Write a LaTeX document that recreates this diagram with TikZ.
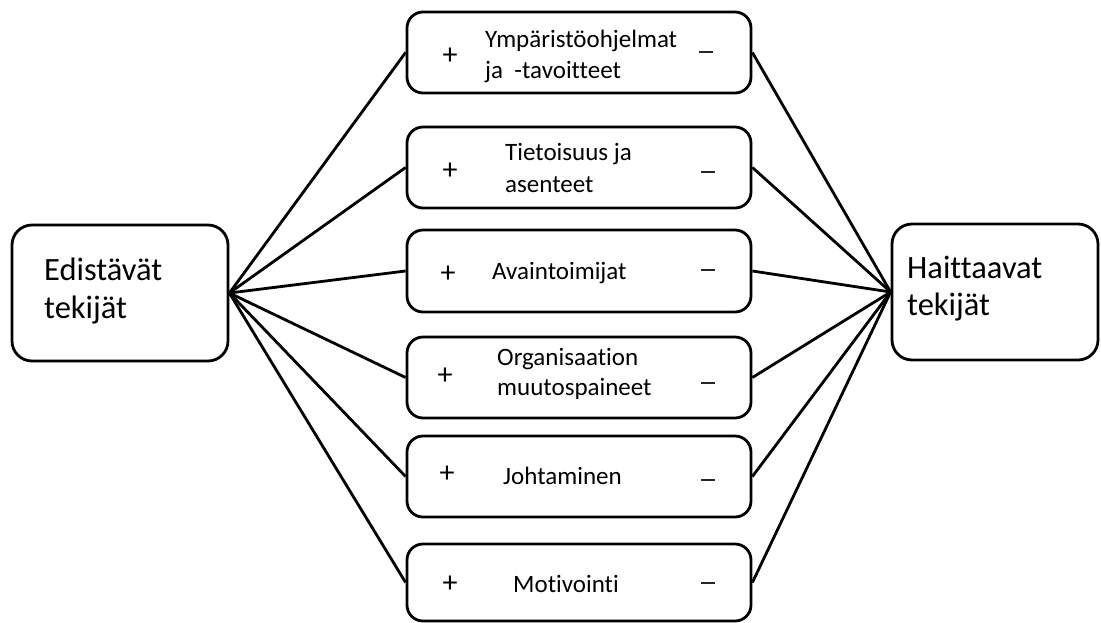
\documentclass[tikz,border=0pt]{standalone}
\usepackage{fontspec}
\setmainfont{Carlito}[Ligatures=NoCommon]
\newcommand\fbig{\fontsize{32.5}{38}\selectfont}
\newcommand\fmid{\fontsize{25}{30}\selectfont}
\newcommand\fsgn{\fontsize{30}{34}\selectfont}
\begin{document}
\begin{tikzpicture}[x=1pt,y=-1pt,
  box/.style={draw=black, line width=2.8pt, rounded corners=#1, inner sep=0pt},
  box/.default=16pt,
  lnk/.style={draw=black, line width=2.8pt},
  lbl/.style={anchor=base west, inner sep=0pt, font=\fmid},
  big/.style={anchor=base west, inner sep=0pt, font=\fbig},
  sgn/.style={anchor=base, inner sep=0pt, font=\fsgn, yshift=-9.5pt},
  neg/.style={fill=black!85, inner sep=0pt, minimum width=14pt, minimum height=2.6pt}]
\useasboundingbox (0,0) rectangle (1101,622);
% side boxes
\node[box=20pt, minimum width=216pt, minimum height=136pt] (L) at (120,293) {};
\node[box=20pt, minimum width=206pt, minimum height=136pt] (R) at (995,292) {};
\node[big] (Lt1) at (44,280) {Edistävät};
\node[big] (Lt2) at (44,318) {tekijät};
\node[big] (Rt1) at (907,278) {Haittaavat};
\node[big] (Rt2) at (907,315) {tekijät};
% middle boxes
\node[box, minimum width=344pt, minimum height=81pt] (b1) at (579,52.5) {};
\node[box, minimum width=344pt, minimum height=81pt] (b2) at (579,167.5) {};
\node[box, minimum width=344pt, minimum height=82pt] (b3) at (579,271) {};
\node[box, minimum width=344pt, minimum height=81pt] (b4) at (579,377.5) {};
\node[box, minimum width=344pt, minimum height=81pt] (b5) at (579,476.5) {};
\node[box, minimum width=344pt, minimum height=77pt] (b6) at (579,582.5) {};
% texts
\node[lbl] (t1a) at (485,47) {Ympäristöohjelmat};
\node[lbl] (t1b) at (485,78) {ja\ \ -tavoitteet};
\node[sgn] (p1) at (450,55) {+};
\node[neg] (m1) at (706,52) {};
\node[lbl] (t2a) at (505,160) {Tietoisuus ja};
\node[lbl] (t2b) at (505,192) {asenteet};
\node[sgn] (p2) at (450,170) {+};
\node[neg] (m2) at (708,172) {};
\node[lbl] (t3a) at (492,279) {Avaintoimijat};
\node[sgn] (p3) at (448,273) {+};
\node[neg] (m3) at (708,270) {};
\node[lbl] (t4a) at (497,365) {Organisaation};
\node[lbl] (t4b) at (497,395) {muutospaineet};
\node[sgn] (p4) at (445,375) {+};
\node[neg] (m4) at (708,383) {};
\node[lbl] (t5a) at (503,484) {Johtaminen};
\node[sgn] (p5) at (447,473) {+};
\node[neg] (m5) at (708,480) {};
\node[lbl] (t6a) at (513,592) {Motivointi};
\node[sgn] (p6) at (450,583) {+};
\node[neg] (m6) at (708,583) {};
% connectors
\foreach \b in {b1,b2,b3,b4,b5,b6}{
  \draw[lnk] (L.east) -- (\b.west);
  \draw[lnk] (\b.east) -- (R.west);
}
\end{tikzpicture}
\end{document}
